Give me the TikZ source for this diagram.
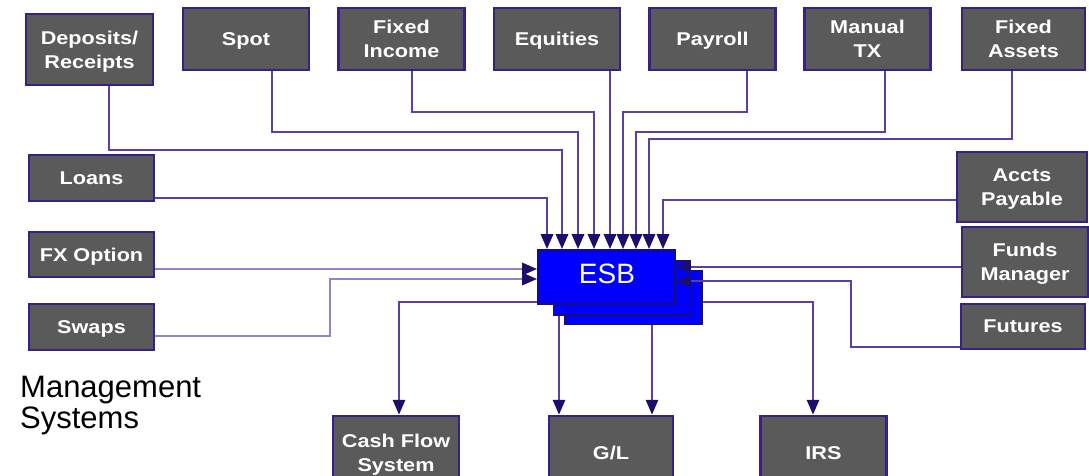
\documentclass[tikz,border=0pt]{standalone}
\usepackage{fontspec}
\setmainfont{Liberation Sans}
\newfontfamily\boxfont{Liberation Sans}[FakeStretch=1.17]
\usetikzlibrary{arrows.meta}

\definecolor{boxfill}{HTML}{5A5A5A}
\definecolor{boxedge}{HTML}{3A1F86}
\definecolor{wire}{HTML}{5B3EA6}
\definecolor{wirelight}{HTML}{8A86CF}
\definecolor{tipcol}{HTML}{1C0F6B}
\definecolor{esbblue}{HTML}{0000FF}

\tikzset{
  sysbox/.style={draw=boxedge, line width=2.4pt, fill=boxfill, text=white,
    font=\boxfont\bfseries\fontsize{18.5}{24}\selectfont, align=center,
    inner sep=0pt, text depth=0pt, minimum width=126pt},
  topbox/.style={sysbox, minimum height=62pt},
  esbbox/.style={draw=tipcol, line width=1.6pt, fill=esbblue,
    minimum width=137pt, minimum height=54pt, inner sep=0pt},
  conn/.style={draw=wire, line width=2.8pt,
    -{Triangle[length=15pt,width=12pt,color=tipcol]}},
  connlight/.style={conn, draw=wirelight},
}

\begin{document}
\begin{tikzpicture}[x=1pt,y=-1pt]
\useasboundingbox (0,0) rectangle (1089,475);
\clip (0,0) rectangle (1089,475);

% source systems along the top
\node[sysbox, minimum width=127pt, minimum height=71pt] (dep) at (89.5,49.5) {Deposits/\\Receipts};
\node[topbox] (spot)      at (246,39)    {Spot};
\node[topbox] (fixinc)    at (401.5,39)  {Fixed\\Income};
\node[topbox] (equit)     at (557,39)    {Equities};
\node[topbox] (payroll)   at (712.5,39)  {Payroll};
\node[topbox] (manual)    at (867.5,39)  {Manual\\TX};
\node[topbox, minimum width=123pt] (fixassets) at (1023.5,39) {Fixed\\Assets};

% systems on the left
\node[sysbox, minimum width=125pt, minimum height=46pt] (loans) at (91.5,178)   {Loans};
\node[sysbox, minimum width=125pt, minimum height=45pt] (fx)    at (91.5,254.5) {FX Option};
\node[sysbox, minimum width=125pt, minimum height=46pt] (swaps) at (91.5,327)   {Swaps};

% systems on the right
\node[sysbox, minimum width=130pt, minimum height=70pt] (accts)   at (1022,187)    {Accts\\Payable};
\node[sysbox, minimum width=126pt, minimum height=70pt] (funds)   at (1025,262)    {Funds\\Manager};
\node[sysbox, minimum width=124pt, minimum height=45pt] (futures) at (1023,326.5)  {Futures};

% downstream systems
\node[sysbox, minimum height=74pt] (cash) at (396,453)   {Cash Flow\\System};
\node[sysbox, minimum width=124pt, minimum height=74pt] (gl)   at (611,453)   {G/L};
\node[sysbox, minimum height=74pt] (irs)  at (823.5,453) {IRS};

% the bus: three stacked layers
\node[esbbox] (esbc) at (633.5,297.5) {};
\node[esbbox] (esbb) at (622,288) {};
\node[esbbox] (esb)  at (606.5,277) {};
\node[text=white, font=\fontsize{28}{30}\selectfont, inner sep=0pt, anchor=base] (esblabel) at (607,283) {ESB};

% inbound from the top row
\draw[conn] (loans.east |- 0,198) -| (esb.north -| 547,0);
\draw[conn] (dep.south -| 109,0) |- (562,150) -- (esb.north -| 562,0);
\draw[conn] (spot.south -| 272,0) |- (578,132) -- (esb.north -| 578,0);
\draw[conn] (fixinc.south -| 412,0) |- (594,112) -- (esb.north -| 594,0);
\draw[conn] (equit.south -| 610,0) -- (esb.north -| 610,0);
\draw[conn] (payroll.south -| 747,0) |- (623,112) -- (esb.north -| 623,0);
\draw[conn] (manual.south -| 885,0) |- (636,132) -- (esb.north -| 636,0);
\draw[conn] (fixassets.south -| 1012,0) |- (649,139) -- (esb.north -| 649,0);
\draw[conn] (accts.west |- 0,200) -| (esb.north -| 663,0);

% inbound from the sides
\draw[connlight] (fx.east |- 0,269) -- (esb.west |- 0,269);
\draw[connlight] (swaps.east |- 0,336) -| (330,279) -- (esb.west |- 0,279);
\draw[conn] (funds.west |- 0,267) -- (esb.east |- 0,267);
\draw[conn] (futures.west |- 0,347) -| (851,281) -- (esb.east |- 0,281);

% outbound
\draw[conn] (esb.west |- 0,302) -| (cash.north -| 399,0);
\draw[conn] (esbb.south -| 559,0) -- (gl.north -| 559,0);
\draw[conn] (esbc.south -| 652,0) -- (gl.north -| 652,0);
\draw[conn] (esbc.east |- 0,302) -| (irs.north -| 813,0);

% caption
\node[anchor=base west, align=left, inner sep=0pt,
      font=\fontsize{31}{31}\selectfont] (caption) at (20,428) {Management\\Systems};
\end{tikzpicture}
\end{document}
